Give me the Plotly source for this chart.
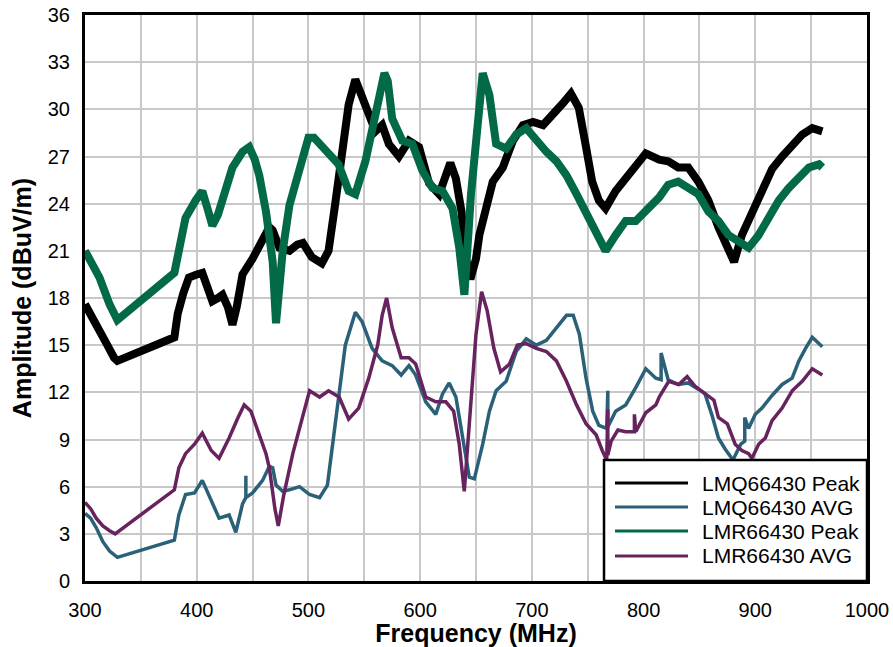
import plotly.graph_objects as go

# ---------------- data ----------------
lmq_peak_f = [300, 305, 312, 320, 326, 329, 380, 383, 388, 393, 400, 405, 410, 414, 419, 423, 428, 432, 436, 441,
              450, 459, 465, 468, 474, 483, 490, 495, 503, 512, 518, 524, 529, 536, 542, 548, 554, 560, 566, 572,
              581, 590, 599, 608, 617, 622, 627, 632, 637, 641, 645, 650, 653, 659, 665, 674, 683, 692, 701, 710,
              719, 728, 735, 742, 748, 754, 760, 766, 775, 784, 793, 802, 814, 822, 831, 840, 849, 858, 867, 876,
              881, 888, 897, 906, 915, 924, 933, 942, 951, 960]
lmq_peak_v = [17.6, 17.0, 16.2, 15.0, 14.2, 14.0, 15.5, 17.0, 18.3, 19.3, 19.5, 19.6, 18.6, 17.8, 18.0, 18.2, 17.4, 16.3, 17.5, 19.5,
              20.5, 21.6, 22.5, 22.3, 21.2, 21.0, 21.4, 21.5, 20.6, 20.2, 21.0, 24.0, 26.7, 30.3, 31.9, 30.8, 29.4, 28.6, 29.0, 27.8,
              27.0, 28.0, 27.6, 25.3, 24.6, 25.5, 26.6, 25.6, 23.5, 20.5, 19.2, 20.5, 22.0, 23.7, 25.4, 26.3, 28.0, 29.0, 29.2, 29.0,
              29.8, 30.4, 31.0, 30.1, 27.8, 25.4, 24.2, 23.7, 24.8, 25.6, 26.5, 27.2, 26.8, 26.7, 26.3, 26.3, 25.4, 24.2, 22.5, 21.0,
              20.3, 22.0, 23.4, 25.0, 26.2, 27.0, 27.8, 28.4, 28.8, 28.6]

lmq_avg_f = [300, 305, 310, 316, 322, 329, 380, 384, 390, 398, 405, 413, 420, 429, 435, 441, 444, 444, 444, 450,
             459, 465, 468, 471, 477, 483, 492, 501, 510, 517, 521.5, 527.5, 533, 542, 548, 557, 566, 575, 583, 590,
             596, 605, 614, 620, 626, 632, 638, 644, 648.5, 656, 662, 668, 677, 686, 695, 704, 713, 722, 731, 737,
             742.5, 748.5, 754.5, 760, 767, 768, 768, 775, 784, 793, 802, 811, 814, 815.7, 815.7, 822, 831, 840, 849, 855,
             861, 867, 873, 880, 887, 890.6, 890.6, 894, 900, 906, 915, 924, 933, 939, 945, 951, 960]
lmq_avg_v = [4.3, 4.0, 3.4, 2.5, 1.9, 1.5, 2.6, 4.2, 5.5, 5.6, 6.4, 5.1, 4.0, 4.2, 3.1, 4.9, 5.3, 6.7, 5.3, 5.6,
             6.4, 7.3, 7.2, 6.1, 5.7, 5.8, 6.0, 5.5, 5.3, 6.1, 8.7, 11.9, 15.0, 17.1, 16.5, 14.8, 14.0, 13.7, 13.1, 13.7,
             13.1, 11.4, 10.6, 11.9, 12.6, 11.7, 9.3, 6.6, 6.5, 8.7, 10.8, 12.1, 12.7, 14.6, 15.4, 15.0, 15.3, 16.1, 16.9, 16.9,
             15.7, 12.9, 10.8, 9.9, 9.7, 12.1, 9.8, 10.8, 11.2, 12.3, 13.5, 12.9, 12.8, 12.8, 14.5, 12.8, 12.5, 12.6, 12.2, 11.9,
             10.6, 9.1, 8.4, 7.7, 8.7, 8.9, 10.4, 9.7, 10.6, 11.0, 11.8, 12.5, 12.9, 14.0, 14.8, 15.5, 14.9]

lmr_peak_f = [300, 305, 313, 322, 329, 380, 384, 390, 399, 405, 410, 414, 419, 423, 432, 441, 447, 452, 456, 462,
              468, 471, 477, 483, 492, 500, 505, 510, 518, 527, 536, 542, 551, 560, 565, 568, 571, 575, 584, 593,
              602, 611, 620, 629, 635, 639.6, 645.5, 651.5, 656, 662, 668, 677, 686, 695, 704, 713, 722, 731, 740, 749,
              758, 766, 775, 784, 793, 802, 814, 822, 831, 840, 849, 858, 867, 876, 885, 894, 903, 912, 921, 930,
              939, 948, 957, 960]
lmr_peak_v = [21.0, 20.3, 19.3, 17.6, 16.6, 19.6, 21.2, 23.1, 24.2, 24.8, 23.6, 22.6, 23.3, 24.2, 26.3, 27.3, 27.6, 26.8, 25.8, 23.5,
              20.3, 16.4, 21.0, 23.9, 26.1, 28.2, 28.2, 27.8, 27.3, 26.5, 24.8, 24.6, 26.7, 29.4, 31.3, 32.3, 31.8, 29.4, 28.0, 27.8,
              26.1, 25.0, 24.8, 23.7, 21.2, 18.2, 24.6, 29.9, 32.3, 30.9, 27.8, 27.5, 28.4, 28.8, 28.0, 27.3, 26.7, 25.8, 24.6, 23.3,
              22.0, 21.0, 22.0, 22.9, 22.9, 23.5, 24.4, 25.2, 25.4, 25.0, 24.6, 23.5, 22.9, 22.0, 21.6, 21.2, 22.0, 23.1, 24.2, 25.0,
              25.6, 26.3, 26.5, 26.3]

lmr_avg_f = [300, 305, 310, 316, 322, 327, 380, 384, 390, 398, 405, 413, 420, 429, 437, 442.5, 448.5, 456, 462, 465,
             470, 473, 478, 486, 493, 501, 510, 518, 527.5, 536, 545, 554, 562, 566, 570, 575, 583, 590, 596, 605,
             614, 623, 630, 635, 639.5, 644, 650, 655, 660, 666, 672, 680, 687, 695, 704, 713, 722, 731, 740, 748.5,
             757.5, 763, 767, 768, 768, 771, 777, 784, 791.8, 791.8, 793, 802, 811, 814, 822.5, 831.5, 839, 846, 855, 863,
             867, 875, 882, 888, 894, 897, 903, 909, 915, 924, 933, 942, 951, 960]
lmr_avg_v = [5.0, 4.6, 4.0, 3.5, 3.2, 3.0, 5.8, 7.2, 8.1, 8.7, 9.4, 8.3, 7.8, 9.1, 10.4, 11.2, 10.8, 9.3, 8.1, 7.2,
             4.6, 3.5, 5.5, 8.1, 10.0, 12.1, 11.7, 12.1, 11.7, 10.3, 11.0, 12.9, 15.0, 16.9, 18.0, 16.1, 14.2, 14.2, 13.8, 11.7,
             11.4, 11.4, 10.8, 8.7, 5.7, 9.7, 15.7, 18.4, 17.2, 14.8, 13.3, 13.8, 15.0, 15.1, 14.8, 14.6, 14.0, 12.7, 11.2, 10.0,
             9.3, 8.3, 7.7, 10.9, 8.0, 8.9, 9.6, 9.5, 9.5, 10.6, 9.5, 10.7, 11.2, 11.7, 12.7, 12.5, 13.0, 12.4, 11.9, 11.5,
             10.4, 10.0, 8.7, 8.3, 8.1, 7.8, 8.7, 9.1, 10.2, 11.0, 12.1, 12.7, 13.5, 13.1]

series_names = ["LMQ66430 Peak", "LMQ66430 AVG", "LMR66430 Peak", "LMR66430 AVG"]
x_ticks = [300, 400, 500, 600, 700, 800, 900, 1000]
y_ticks = [0, 3, 6, 9, 12, 15, 18, 21, 24, 27, 30, 33, 36]

# ---------------- styling ----------------
colors = ["#000000", "#2A6078", "#036A48", "#66235E"]
widths = [8, 3.5, 8, 3.5]
FONT = "Liberation Sans, Arial, sans-serif"

data = [(lmq_peak_f, lmq_peak_v), (lmq_avg_f, lmq_avg_v), (lmr_peak_f, lmr_peak_v), (lmr_avg_f, lmr_avg_v)]

fig = go.Figure()
for (f, v), name, c, w in zip(data, series_names, colors, widths):
    fig.add_trace(go.Scatter(x=f, y=v, mode="lines", name=name, showlegend=False,
                             line=dict(color=c, width=w, shape="linear")))

# ---- legend box drawn in paper coordinates (inside bottom-right of plot) ----
shapes = [dict(type="rect", xref="paper", yref="paper", x0=0.6637, x1=1.0, y0=0.0, y1=0.2138,
               fillcolor="white", line=dict(color="black", width=2.5), layer="above")]
annotations = []
row_y = [0.1731, 0.1307, 0.0883, 0.0442]
for name, c, yy in zip(series_names, colors, row_y):
    shapes.append(dict(type="line", xref="paper", yref="paper", x0=0.6777, x1=0.7711, y0=yy, y1=yy,
                       line=dict(color=c, width=3), layer="above"))
    annotations.append(dict(xref="paper", yref="paper", x=0.7864, y=yy, xanchor="left", yanchor="middle",
                            text=name, showarrow=False, font=dict(size=21, family=FONT, color="black")))

fig.update_layout(
    width=893, height=647,
    margin=dict(l=85, r=26, t=15, b=66),
    paper_bgcolor="white", plot_bgcolor="white",
    font=dict(family=FONT, color="black", size=20),
    showlegend=False,
    shapes=shapes, annotations=annotations,
)
fig.update_xaxes(
    range=[300, 1000], tickvals=x_ticks, ticktext=[str(t) for t in x_ticks],
    showgrid=True, gridcolor="#C8C8C8", gridwidth=2,
    minor=dict(dtick=50, tick0=300, showgrid=True, gridcolor="#C8C8C8", gridwidth=2),
    showline=True, linecolor="black", linewidth=3, mirror=True,
    ticks="", ticklabelstandoff=9, zeroline=False, automargin=False,
    title=dict(text="<b>Frequency (MHz)</b>", font=dict(size=25, family=FONT), standoff=4),
)
fig.update_yaxes(
    range=[0, 36], tickvals=y_ticks, ticktext=[str(t) for t in y_ticks],
    showgrid=True, gridcolor="#C8C8C8", gridwidth=2,
    showline=True, linecolor="black", linewidth=3, mirror=True,
    ticks="", ticklabelstandoff=8, zeroline=False, automargin=False,
    title=dict(text="<b>Amplitude (dBuV/m)</b>", font=dict(size=25, family=FONT), standoff=10),
)

fig.write_html("out.html")
